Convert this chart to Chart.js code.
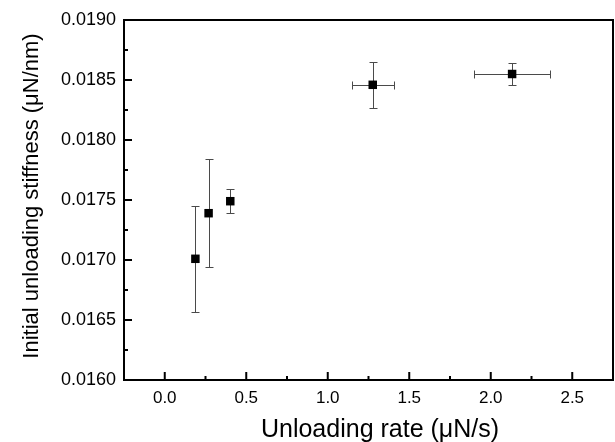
<!DOCTYPE html>
<html>
<head>
<meta charset="utf-8">
<script src="https://cdn.jsdelivr.net/npm/chart.js@4.4.1/dist/chart.umd.min.js"></script>
<style>
  html, body { margin: 0; padding: 0; background: #fff; }
  #wrap { width: 615px; height: 442px; }
</style>
</head>
<body>
<div id="wrap"><canvas id="chart" width="615" height="442"></canvas></div>
<script>
// data
const rate = [0.188, 0.269, 0.402, 1.276, 2.131];           // uN/s
const rateErr = [0, 0, 0, 0.128, 0.231];
const stiffness = [0.01701, 0.01739, 0.01749, 0.01846, 0.01855]; // uN/nm
const stiffErr = [0.00044, 0.00045, 0.0001, 0.00019, 0.00009];

const xTicks = [0.0, 0.5, 1.0, 1.5, 2.0, 2.5];
const yTicks = [0.0160, 0.0165, 0.0170, 0.0175, 0.0180, 0.0185, 0.0190];
const xTitle = "Unloading rate (\u03bcN/s)";
const yTitle = "Initial unloading stiffness (\u03bcN/nm)";

const fontFam = "'Liberation Sans', Arial, sans-serif";

// error bars, drawn under the markers
const errorBars = {
  id: "errorBars",
  beforeDatasetsDraw(chart) {
    const ctx = chart.ctx;
    const xs = chart.scales.x;
    const ys = chart.scales.y;
    const cap = 4;
    ctx.save();
    ctx.strokeStyle = "#4a4a4a";
    ctx.lineWidth = 1;
    for (let i = 0; i < rate.length; i++) {
      const px = Math.round(xs.getPixelForValue(rate[i])) + 0.5;
      const py = Math.round(ys.getPixelForValue(stiffness[i])) + 0.5;
      if (stiffErr[i] > 0) {
        const yTop = Math.round(ys.getPixelForValue(stiffness[i] + stiffErr[i])) + 0.5;
        const yBot = Math.round(ys.getPixelForValue(stiffness[i] - stiffErr[i])) + 0.5;
        ctx.beginPath();
        ctx.moveTo(px, yTop); ctx.lineTo(px, yBot);
        ctx.moveTo(px - cap, yTop); ctx.lineTo(px + cap, yTop);
        ctx.moveTo(px - cap, yBot); ctx.lineTo(px + cap, yBot);
        ctx.stroke();
      }
      if (rateErr[i] > 0) {
        const xL = Math.round(xs.getPixelForValue(rate[i] - rateErr[i])) + 0.5;
        const xR = Math.round(xs.getPixelForValue(rate[i] + rateErr[i])) + 0.5;
        ctx.beginPath();
        ctx.moveTo(xL, py); ctx.lineTo(xR, py);
        ctx.moveTo(xL, py - cap); ctx.lineTo(xL, py + cap);
        ctx.moveTo(xR, py - cap); ctx.lineTo(xR, py + cap);
        ctx.stroke();
      }
    }
    ctx.restore();
  }
};

// frame + inward major/minor ticks + axis titles
const frameTicks = {
  id: "frameTicks",
  afterDraw(chart) {
    const ctx = chart.ctx;
    const a = chart.chartArea;
    const xs = chart.scales.x;
    const ys = chart.scales.y;
    ctx.save();
    ctx.strokeStyle = "#000";
    ctx.lineWidth = 2;
    ctx.strokeRect(a.left, a.top, a.right - a.left, a.bottom - a.top);

    const step = xTicks[1] - xTicks[0];
    ctx.beginPath();
    xTicks.forEach((v, i) => {
      const p = xs.getPixelForValue(v);
      ctx.moveTo(p, a.bottom); ctx.lineTo(p, a.bottom - 8);
      const m = v + step / 2;
      if (m < xs.max) {
        const pm = xs.getPixelForValue(m);
        ctx.moveTo(pm, a.bottom); ctx.lineTo(pm, a.bottom - 4);
      }
      if (i === 0 && v - step / 2 > xs.min) {
        const p0 = xs.getPixelForValue(v - step / 2);
        ctx.moveTo(p0, a.bottom); ctx.lineTo(p0, a.bottom - 4);
      }
    });
    yTicks.forEach((v, i) => {
      const p = ys.getPixelForValue(v);
      ctx.moveTo(a.left, p); ctx.lineTo(a.left + 8, p);
      if (i < yTicks.length - 1) {
        const pm = ys.getPixelForValue((v + yTicks[i + 1]) / 2);
        ctx.moveTo(a.left, pm); ctx.lineTo(a.left + 4, pm);
      }
    });
    ctx.stroke();

    // axis titles
    ctx.fillStyle = "#000";
    ctx.textAlign = "center";
    ctx.textBaseline = "alphabetic";
    ctx.font = "25px " + fontFam;
    ctx.fillText(xTitle, 380, 437);
    ctx.translate(38, 196);
    ctx.rotate(-Math.PI / 2);
    ctx.font = "22px " + fontFam;
    ctx.fillText(yTitle, 0, 0);
    ctx.restore();
  }
};

new Chart(document.getElementById("chart"), {
  type: "scatter",
  data: {
    datasets: [{
      data: rate.map((r, i) => ({ x: r, y: stiffness[i] })),
      pointStyle: "rect",
      radius: 6,
      hoverRadius: 6,
      backgroundColor: "#000",
      borderColor: "#000",
      borderWidth: 0
    }]
  },
  options: {
    responsive: false,
    animation: false,
    events: [],
    layout: { autoPadding: false, padding: { top: 20, right: 2, left: 0, bottom: 0 } },
    plugins: { legend: { display: false }, tooltip: { enabled: false } },
    scales: {
      x: {
        type: "linear",
        min: -0.25,
        max: 2.75,
        afterBuildTicks: (s) => { s.ticks = xTicks.map(v => ({ value: v })); },
        afterFit: (s) => { s.height = 62; s.paddingLeft = 0; s.paddingRight = 0; },
        grid: { display: false, drawTicks: false },
        border: { display: false },
        ticks: {
          color: "#000",
          padding: 8,
          maxRotation: 0,
          font: { family: fontFam, size: 17 },
          callback: (v) => Number(v).toFixed(1)
        }
      },
      y: {
        type: "linear",
        min: 0.016,
        max: 0.019,
        afterBuildTicks: (s) => { s.ticks = yTicks.map(v => ({ value: v })); },
        afterFit: (s) => { s.width = 124; },
        grid: { display: false, drawTicks: false },
        border: { display: false },
        ticks: {
          color: "#000",
          padding: 8,
          font: { family: fontFam, size: 18 },
          callback: (v) => Number(v).toFixed(4)
        }
      }
    }
  },
  plugins: [errorBars, frameTicks]
});
</script>
</body>
</html>
